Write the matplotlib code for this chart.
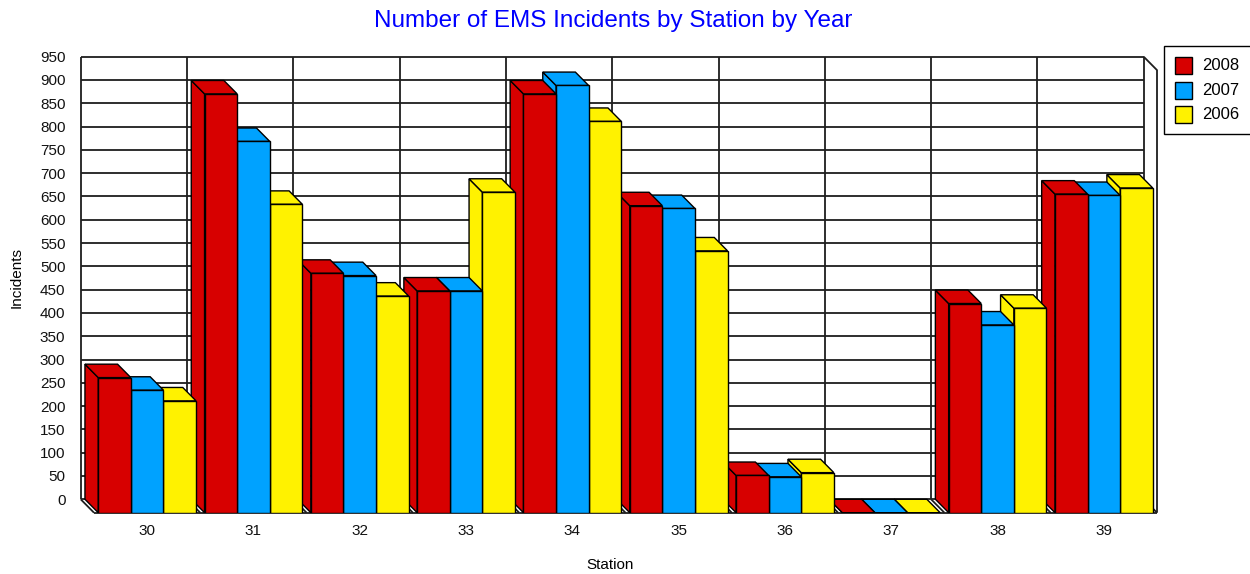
import numpy as np
import matplotlib.pyplot as plt
from matplotlib.patches import Polygon, Rectangle

# incidents per station, one list per year
stations = ['30', '31', '32', '33', '34', '35', '36', '37', '38', '39']
years = ['2008', '2007', '2006']
incidents_2008 = [290, 899, 514, 476, 899, 659, 80, 0, 449, 684]
incidents_2007 = [263, 797, 509, 476, 917, 653, 77, 0, 403, 681]
incidents_2006 = [240, 662, 465, 688, 840, 562, 86, 0, 439, 697]
series = [incidents_2008, incidents_2007, incidents_2006]
colors = ['#D70000', '#00A2FF', '#FFF200']

plt.rcParams['font.family'] = ['Liberation Sans', 'DejaVu Sans']

W, H = 1250, 574
DX = 0.125     # depth of the fake 3d box, in category units
DY = 28.8      # depth in incident units
PAD = 0.04
BAR_W = 0.3067
YMAX = 950
n = len(stations)

fig = plt.figure(figsize=(W / 100, H / 100), dpi=100)
ax = fig.add_axes([80.7 / W, 1 - 512.7 / H, 1076.3 / W, 456 / H])
ax.set_xlim(0, n + DX)
ax.set_ylim(-DY, YMAX)
for s in ax.spines.values():
    s.set_visible(False)

line_kw = dict(color='#1e1e1e', lw=1.3, clip_on=False, zorder=1, solid_capstyle='butt')

# back wall grid
for v in range(0, YMAX + 1, 50):
    ax.plot([0, n], [v, v], **line_kw)
for i in range(n + 1):
    ax.plot([i, i], [0, YMAX], **line_kw)
    ax.plot([i, i + DX], [0, -DY], **line_kw)
# floor front edge and right wall
ax.plot([DX, n + DX], [-DY, -DY], **line_kw)
ax.plot([n, n + DX, n + DX], [YMAX, YMAX - DY, -DY], **line_kw)

# bars, painted back to front (right to left)
for i in reversed(range(n)):
    for j in reversed(range(len(series))):
        v = series[j][i]
        x0 = i + PAD + j * BAR_W
        c = colors[j]
        side = Polygon([(x0, 0), (x0, v), (x0 + DX, v - DY), (x0 + DX, -DY)],
                       closed=True, facecolor=c, edgecolor='black', lw=1.0, zorder=2)
        top = Polygon([(x0, v), (x0 + BAR_W, v), (x0 + BAR_W + DX, v - DY), (x0 + DX, v - DY)],
                      closed=True, facecolor=c, edgecolor='black', lw=1.0, zorder=2)
        front = Rectangle((x0 + DX, -DY), BAR_W, v,
                          facecolor=c, edgecolor='black', lw=1.0, zorder=2)
        ax.add_patch(side)
        ax.add_patch(top)
        ax.add_patch(front)

ax.set_yticks(range(0, YMAX + 1, 50))
ax.tick_params(axis='y', length=0, pad=11, labelsize=11, labelcolor='#111111')
ax.set_xticks([i + PAD + 1.5 * BAR_W + DX for i in range(n)])
ax.set_xticklabels(stations)
ax.tick_params(axis='x', length=0, pad=8, labelsize=11, labelcolor='#111111')

fig.text(17 / W, 1 - 278 / H, 'Incidents', rotation=90, ha='center', va='center', fontsize=11)
fig.text(610 / W, 1 - 565 / H, 'Station', ha='center', va='center', fontsize=11)
fig.text(613 / W, 1 - 21 / H, 'Number of EMS Incidents by Station by Year',
         ha='center', va='center', fontsize=17.5, color='#0000FF')

# legend box
fig.add_artist(Rectangle((1164 / W, 1 - 133.7 / H), 100 / W, 88 / H,
                         transform=fig.transFigure, facecolor='white',
                         edgecolor='black', lw=1))
for k, (label, c) in enumerate(zip(years, colors)):
    top_px = 57.3 + k * 24.4
    fig.add_artist(Rectangle((1175 / W, 1 - (top_px + 17) / H), 17 / W, 17 / H,
                             transform=fig.transFigure, facecolor=c,
                             edgecolor='black', lw=1))
    fig.text(1202 / W, 1 - (top_px + 8.5) / H, label, ha='left', va='center', fontsize=12)

fig.savefig('out.png', dpi=100)
